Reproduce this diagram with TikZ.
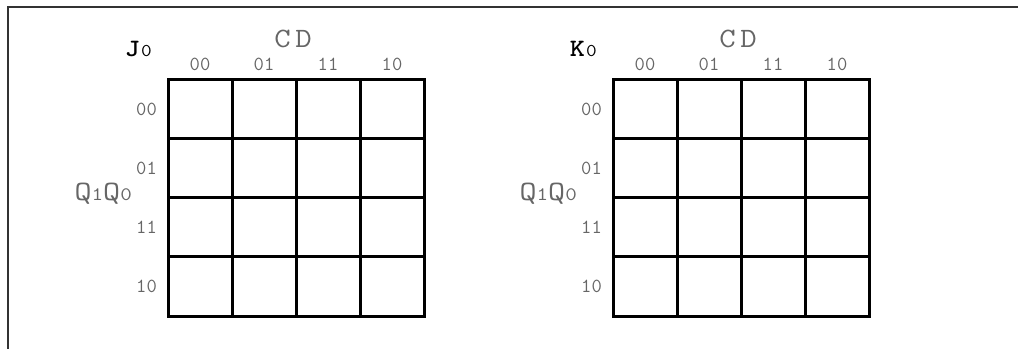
\documentclass[tikz,border=0pt]{standalone}
\usepackage{fontspec}
\newfontfamily\boldmono{lmmonolt10-bold.otf}
\begin{document}
\begin{tikzpicture}[x=1pt,y=-1pt,
  lbl/.style={text=black!60, font=\ttfamily\fontsize{20}{22}\selectfont, inner sep=0pt},
  big/.style={text=black!60, font=\ttfamily\fontsize{28}{30}\selectfont, inner sep=0pt},
  ttl/.style={text=black, font=\boldmono\fontsize{25}{27}\selectfont, inner sep=0pt},
  gridline/.style={line width=3pt, black, line cap=rect},
  frame/.style={line width=2pt, black!80}]
\useasboundingbox (0,0) rectangle (1018,349);
\draw[frame] (1018,7) -- (8,7) -- (8,349);
\foreach \ox/\t/\n in {168/J/j, 613/K/k}{
  % grid
  \foreach \i in {0,...,4}{
    \draw[gridline] (\ox+64*\i,79) -- (\ox+64*\i,316);
    \draw[gridline] (\ox,79+59.25*\i) -- (\ox+256,79+59.25*\i);
  }
  \node[ttl, anchor=base east] (\n title) at (\ox-16,56) {\scalebox{1.15}[1]{\t\kern1pt{\ttfamily\fontsize{18}{19}\selectfont 0}}};
  \node[big, anchor=base] (\n cd) at (\ox+125,47) {\scalebox{1.14}[1]{C\kern4pt D}};
  \node[big, anchor=base east] (\n q) at (\ox-36,200) {\scalebox{1.18}[1]{Q{\fontsize{19}{20}\selectfont 1}Q{\fontsize{19}{20}\selectfont 0}}};
  \foreach \c/\l in {0/00,1/01,2/11,3/10}{
    \node[lbl, anchor=base] (\n c\c) at (\ox+32+64*\c,70) {\l};
    \node[lbl, anchor=east] (\n r\c) at (\ox-11,109+59.25*\c) {\l};
  }
}
\end{tikzpicture}
\end{document}
